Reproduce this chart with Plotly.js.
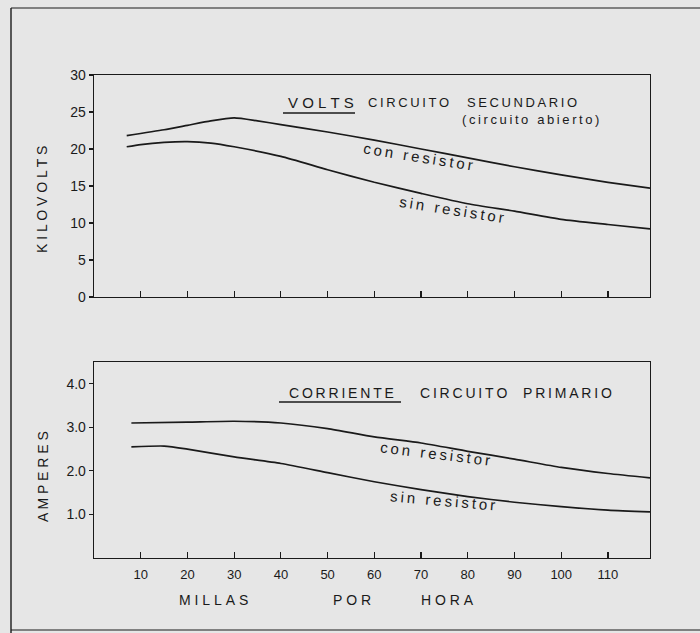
<!DOCTYPE html>
<html>
<head>
<meta charset="utf-8">
<script src="https://cdn.plot.ly/plotly-3.0.1.min.js"></script>
<style>html,body{margin:0;padding:0;background:#e6e6e6;}#chart{width:700px;height:633px;}</style>
</head>
<body>
<div id="chart"></div>
<script>
// ---- data ----
var mphKvCon = [7, 15, 20, 25, 30, 35, 40, 50, 60, 70, 80, 90, 100, 110, 119];
var kvCon    = [21.8, 22.6, 23.2, 23.8, 24.2, 23.8, 23.3, 22.3, 21.2, 20.0, 18.8, 17.6, 16.5, 15.5, 14.7];
var mphKvSin = [7, 10, 15, 20, 25, 30, 40, 50, 60, 70, 80, 90, 100, 110, 119];
var kvSin    = [20.3, 20.6, 20.9, 21.0, 20.8, 20.3, 19.0, 17.2, 15.5, 14.0, 12.6, 11.6, 10.5, 9.8, 9.2];
var mphAmpCon = [8, 20, 30, 40, 50, 60, 70, 80, 90, 100, 110, 119];
var ampCon    = [3.10, 3.12, 3.14, 3.10, 2.97, 2.78, 2.64, 2.45, 2.27, 2.08, 1.94, 1.84];
var mphAmpSin = [8, 15, 20, 30, 40, 50, 60, 70, 80, 90, 100, 110, 119];
var ampSin    = [2.55, 2.57, 2.50, 2.32, 2.17, 1.96, 1.75, 1.57, 1.41, 1.28, 1.18, 1.10, 1.06];
var xTicks = [10, 20, 30, 40, 50, 60, 70, 80, 90, 100, 110];
var kvTicks = [0, 5, 10, 15, 20, 25, 30];
var ampTicks = [1, 2, 3, 4];
var ampTickText = ['1.0', '2.0', '3.0', '4.0'];

// ---- helpers ----
var L = 94, R = 650, T = 75, B = 558;
function xp(px){ return (px - L) / (R - L); }
function yp(py){ return (B - py) / (B - T); }
function sp(s){ return s.split('').join('\u2009'); }
function sp2(s){ return s.split('').join('\u00a0'); }
var ink = '#1a1a1a';
var FONT = '"Liberation Sans", Arial, sans-serif';

var lineStyle = {color: ink, width: 1.7, shape: 'spline', smoothing: 0.6};
var traces = [
  {x: mphKvCon, y: kvCon, xaxis: 'x', yaxis: 'y', mode: 'lines', line: lineStyle, name: 'con resistor'},
  {x: mphKvSin, y: kvSin, xaxis: 'x', yaxis: 'y', mode: 'lines', line: lineStyle, name: 'sin resistor'},
  {x: mphAmpCon, y: ampCon, xaxis: 'x2', yaxis: 'y2', mode: 'lines', line: lineStyle, name: 'con resistor'},
  {x: mphAmpSin, y: ampSin, xaxis: 'x2', yaxis: 'y2', mode: 'lines', line: lineStyle, name: 'sin resistor'}
];

function ann(text, px, py, size, angle){
  return {text: text, x: xp(px), y: yp(py), xref: 'paper', yref: 'paper', showarrow: false,
    xanchor: 'center', yanchor: 'middle', textangle: angle || 0,
    font: {family: FONT, size: size, color: ink}};
}

var annotations = [
  ann(sp2('VOLTS'), 321, 102, 15),
  ann(sp('CIRCUITO'), 408, 102, 13),
  ann(sp('SECUNDARIO'), 522, 102, 13),
  ann(sp('(circuito abierto)'), 530, 120, 13),
  ann(sp('con resistor'), 418, 156, 15, 9),
  ann(sp('sin resistor'), 452, 209, 15, 9),
  ann(sp('CORRIENTE'), 341, 393, 14),
  ann(sp('CIRCUITO'), 463, 393, 14),
  ann(sp('PRIMARIO'), 567, 393, 14),
  ann(sp('con resistor'), 435, 453, 15, 7),
  ann(sp('sin resistor'), 443, 500, 15, 5),
  ann('K I L O V O L T S', 42, 200, 14, -90),
  ann('A M P E R E S', 43, 477, 14, -90),
  ann(sp2('MILLAS'), 213, 600, 14),
  ann(sp2('POR'), 352, 600, 14),
  ann(sp2('HORA'), 447, 600, 14)
];

function seg(x0, y0, x1, y1, w){
  return {type: 'line', xref: 'paper', yref: 'paper', x0: xp(x0), y0: yp(y0), x1: xp(x1), y1: yp(y1),
    line: {color: ink, width: w || 1.3}};
}
var shapes = [
  seg(283, 113, 355, 113, 1.3),
  seg(279, 402, 401, 402, 1.3),
  seg(11, 8, 700, 8, 1.2),
  seg(11, 8, 11, 633, 1.4),
  seg(11, 630, 700, 630, 1.2)
];

var layout = {
  width: 700, height: 633,
  margin: {l: L, r: 700 - R, t: T, b: 633 - B, pad: 0},
  paper_bgcolor: '#e6e6e6', plot_bgcolor: '#e6e6e6',
  showlegend: false,
  font: {family: FONT, color: ink},
  xaxis: {domain: [0, 1], anchor: 'y', range: [0, 119], tickvals: xTicks, showticklabels: false,
    ticks: 'inside', ticklen: 6, tickcolor: ink, tickwidth: 1.2,
    showline: true, mirror: true, linecolor: ink, linewidth: 1.3, showgrid: false, zeroline: false},
  yaxis: {domain: [yp(297), 1], anchor: 'x', range: [0, 30], tickvals: kvTicks,
    ticks: 'outside', ticklen: 4, tickcolor: ink, tickwidth: 1.2,
    tickfont: {family: FONT, size: 14, color: ink},
    showline: true, mirror: true, linecolor: ink, linewidth: 1.3, showgrid: false, zeroline: false},
  xaxis2: {domain: [0, 1], anchor: 'y2', range: [0, 119], tickvals: xTicks,
    ticks: 'inside', ticklen: 6, tickcolor: ink, tickwidth: 1.2, ticklabelstandoff: 4,
    tickfont: {family: FONT, size: 13, color: ink},
    showline: true, mirror: true, linecolor: ink, linewidth: 1.3, showgrid: false, zeroline: false},
  yaxis2: {domain: [0, yp(362)], anchor: 'x2', range: [0, 4.5], tickvals: ampTicks, ticktext: ampTickText,
    ticks: 'outside', ticklen: 4, tickcolor: ink, tickwidth: 1.2,
    tickfont: {family: FONT, size: 14, color: ink},
    showline: true, mirror: true, linecolor: ink, linewidth: 1.3, showgrid: false, zeroline: false},
  annotations: annotations,
  shapes: shapes
};

Plotly.newPlot('chart', traces, layout, {displayModeBar: false, staticPlot: true});
</script>
</body>
</html>
